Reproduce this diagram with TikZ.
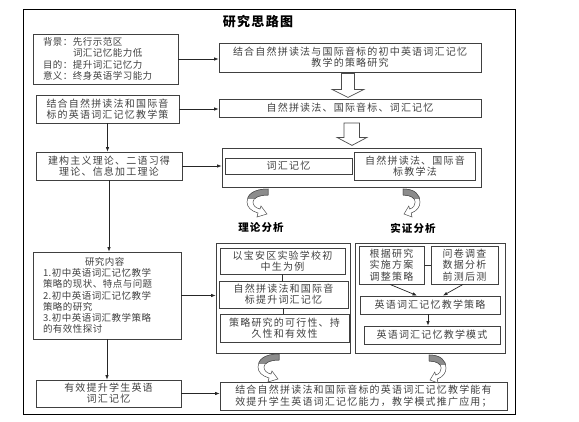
\documentclass[tikz,border=0pt]{standalone}
\usepackage{fontspec}
\newfontfamily\cjk[LetterSpace=12]{Noto Sans CJK SC}
\newfontfamily\cjks[LetterSpace=5]{Noto Sans CJK SC}
\newfontfamily\cjkt[LetterSpace=10]{Noto Sans CJK SC}
\usetikzlibrary{arrows.meta,calc}
\tikzset{
 carrow/.pic={
  \path[fill=white,draw=black!70,line width=0.5pt] (21,0) .. controls (6,0) and (0,6) .. (0,13) .. controls (0,18) and (4,22) .. (11,24) -- (10,28) -- (20,25) -- (14,17) -- (13,20) .. controls (8,19) and (6,16) .. (6,13) .. controls (6,9) and (12,6) .. (21,6) -- cycle;
  \begin{scope}
   \clip (-1,-1) rectangle (22,9);
   \path[fill=black!45,draw=black!70,line width=0.5pt] (21,0) .. controls (6,0) and (0,6) .. (0,13) -- (6,13) .. controls (6,9) and (12,6) .. (21,6) -- cycle;
  \end{scope}
 }
}
\begin{document}
\begin{tikzpicture}[x=1pt,y=-1pt,
 box/.style={draw=black!75,line width=0.8pt,align=center,inner sep=0pt,font=\cjk\fontsize{10}{11.2}\selectfont,text=black!75},
 lbox/.style={box,align=left,font=\cjks\fontsize{9.5}{11.2}\selectfont},
 arr/.style={-{Latex[length=4.5pt,width=3.5pt]},line width=0.7pt,black!85},
 thinline/.style={line width=0.6pt,black!80},
 hollow/.style={draw=black!70,line width=0.7pt,fill=white},
 boldlabel/.style={font=\cjkt\bfseries\fontsize{10.5}{12}\selectfont,text=black}
]
\useasboundingbox (0,0) rectangle (579,421);
\draw[line width=1pt] (23,9.5) rectangle (515,414);
\node[font=\cjkt\bfseries\fontsize{13}{14}\selectfont] (title) at (258,22) {研究思路图};

% left column
\node[lbox,text width=125pt,inner xsep=10pt,minimum height=50pt] (B1) at (105.5,59) {背景：先行示范区\\\hspace*{30pt}词汇记忆能力低\\目的：提升词汇记忆力\\意义：终身英语学习能力};
\node[box,minimum width=143pt,minimum height=28pt] (B2) at (107.5,109) {结合自然拼读法和国际音\\标的英语词汇记忆教学策};
\node[box,minimum width=146pt,minimum height=28pt] (B3) at (109,166) {建构主义理论、二语习得\\理论、信息加工理论};
\node[lbox,text width=128pt,inner xsep=10pt,minimum height=87pt] (B4) at (107,295.5) {\hspace*{42pt}研究内容\\1.初中英语词汇记忆教学\\策略的现状、特点与问题\\2.初中英语词汇记忆教学\\策略的研究\\3.初中英语词汇教学策略\\的有效性探讨};
\node[box,minimum width=145pt,minimum height=27pt] (B5) at (108.5,393.5) {有效提升学生英语\\词汇记忆};

% right column
\node[box,minimum width=262pt,minimum height=29pt] (R1) at (350,57.5) {结合自然拼读法与国际音标的初中英语词汇记忆\\教学的策略研究};
\node[box,minimum width=262pt,minimum height=18pt] (R2) at (350,108) {自然拼读法、国际音标、词汇记忆};
\node[box,minimum width=259pt,minimum height=39pt] (R3) at (351.5,167.5) {};
\node[box,minimum width=127pt,minimum height=16pt] (R3a) at (288.5,166) {词汇记忆};
\node[box,minimum width=121.5pt,minimum height=28pt] (R3b) at (415,166) {自然拼读法、国际音\\标教学法};

\node[boldlabel] (T1) at (261,228) {理论分析};
\node[boldlabel] (T2) at (413,228) {实证分析};

\node[box,minimum width=134pt,minimum height=110pt] (R4) at (283,298) {};
\node[box,minimum width=125pt,minimum height=26pt] (R4a) at (282.5,261) {以宝安区实验学校初\\中生为例};
\node[box,minimum width=129pt,minimum height=27pt] (R4b) at (283.5,294.5) {自然拼读法和国际音\\标提升词汇记忆};
\node[box,minimum width=129pt,minimum height=28pt] (R4c) at (284.5,328) {策略研究的可行性、持\\久性和有效性};

\node[box,minimum width=150pt,minimum height=110pt] (R5) at (430,298) {};
\node[box,minimum width=65pt,minimum height=38pt] (R5d) at (391.5,265) {根据研究\\实施方案\\调整策略};
\node[box,minimum width=67pt,minimum height=38pt] (R5e) at (464.5,265) {问卷调查\\数据分析\\前测后测};
\node[box,minimum width=140pt,minimum height=18pt] (R5f) at (430,305) {英语词汇记忆教学策略};
\node[box,minimum width=136pt,minimum height=18pt] (R5g) at (432,335) {英语词汇记忆教学模式};

\node[box,minimum width=287pt,minimum height=28pt] (R6) at (363.5,396) {结合自然拼读法和国际音标的英语词汇记忆教学能有\\效提升学生英语词汇记忆能力，教学模式推广应用；};

% connectors
\draw[arr] (B1.east) -- (B1.east -| R1.west);
\draw[arr] (B2.east) -- (B2.east -| R2.west);
\draw[arr] (B3.east) -- (B3.east -| R3.west);
\draw[arr] (B4.east) -- (B4.east -| R4.west);
\draw[arr] (B5.east) -- (B5.east -| R6.west);
\draw[arr] (B2.south) -- (B2.south |- B3.north);
\draw[arr] (B3.south) -- (B3.south |- B4.north);
\draw[arr] (B4.south) -- (B4.south |- B5.north);
\draw[thinline] (R4a.south) -- (R4a.south |- R4b.north);
\draw[thinline] (R4b.south) -- (R4b.south |- R4c.north);
\draw[thinline] (R5d.east) -- (R5e.west);
\draw[arr] ($(R5d.south)+(-1.5,0)$) -- ($(R5f.north)+(-13,0)$);
\draw[arr] ($(R5e.south)+(-1.5,0)$) -- ($(R5f.north)+(13,0)$);
\draw[arr] ($(R5f.south)+(-2,0)$) -- ($(R5g.north)+(-4,0)$);

% hollow block arrows
\draw[hollow] ($(R1.south)+(-8.5,1)$) -- ++(0,16) -- ++(-9.5,0) -- ++(16,8) -- ++(16,-8) -- ++(-9.5,0) -- ++(0,-16) -- cycle;
\draw[hollow] ($(R2.south)+(-6,5.5)$) -- ++(0,14.5) -- ++(-7,0) -- ++(15,8) -- ++(15,-8) -- ++(-7.5,0) -- ++(0,-14.5) -- cycle;

% curved arrows
\pic at (247,189) {carrow};
\pic[xscale=-0.8] at (420,189) {carrow};
\pic at (258,354) {carrow};
\pic[xscale=-0.8] at (446,355) {carrow};
\end{tikzpicture}
\end{document}
